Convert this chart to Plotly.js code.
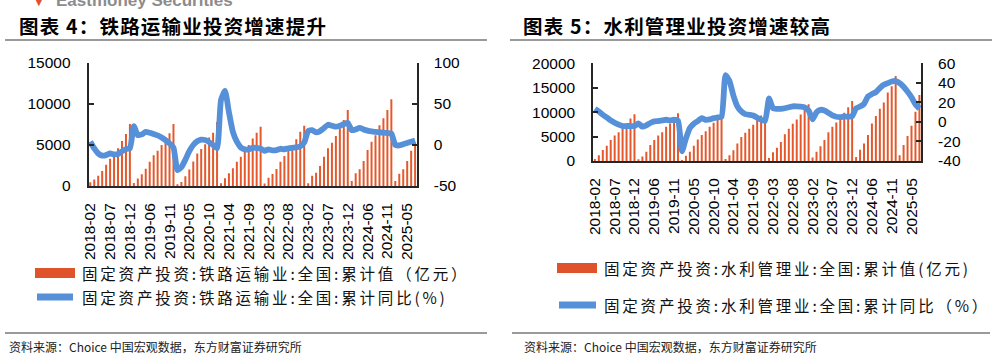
<!DOCTYPE html>
<html><head><meta charset="utf-8">
<script src="https://cdn.plot.ly/plotly-3.0.1.min.js"></script>
<style>html,body{margin:0;padding:0;background:#fff}#chart{width:997px;height:358px}</style>
</head><body><div id="chart"></div>
<script>
// ---------- data ----------
const categories = [
 '2018-02','2018-03','2018-04','2018-05','2018-06','2018-07','2018-08','2018-09','2018-10','2018-11','2018-12',
 '2019-02','2019-03','2019-04','2019-05','2019-06','2019-07','2019-08','2019-09','2019-10','2019-11','2019-12',
 '2020-02','2020-03','2020-04','2020-05','2020-06','2020-07','2020-08','2020-09','2020-10','2020-11','2020-12',
 '2021-02','2021-03','2021-04','2021-05','2021-06','2021-07','2021-08','2021-09','2021-10','2021-11','2021-12',
 '2022-02','2022-03','2022-04','2022-05','2022-06','2022-07','2022-08','2022-09','2022-10','2022-11','2022-12',
 '2023-02','2023-03','2023-04','2023-05','2023-06','2023-07','2023-08','2023-09','2023-10','2023-11','2023-12',
 '2024-02','2024-03','2024-04','2024-05','2024-06','2024-07','2024-08','2024-09','2024-10','2024-11','2024-12',
 '2025-02','2025-03','2025-04','2025-05','2025-06','2025-07'
];
// 铁路运输业 累计值 (亿元)
const railValue = [
 450, 800, 1260, 1830, 2600, 3330, 3940, 4600, 5490, 6340, 7560,
 370, 900, 1420, 2100, 2970, 3740, 4300, 5000, 5730, 6420, 7560,
 200, 500, 1200, 2000, 3000, 3950, 4500, 5100, 5900, 6500, 7800,
 350, 930, 1540, 2150, 2970, 3580, 4400, 5000, 5800, 6500, 7240,
 300, 1000, 1460, 2070, 2970, 3660, 4300, 4700, 5700, 6630, 7360,
 350, 1260, 1630, 2440, 3580, 4600, 5280, 6100, 7030, 8050, 9270,
 600, 1540, 2030, 3050, 4390, 5400, 6200, 7400, 8250, 9270, 10570,
 600, 1500, 2050, 3050, 4300, 5300
];
// 铁路运输业 累计同比 (%)
const railYoY = [
 3.9, -4.2, -10.3, -13, -12.3, -10.3, -11.5, -11, -7.8, -5, -4.2,
 23, 12, 13, 16, 15, 13.3, 11.7, 9.2, 6, 1.9, -3,
 -30.5, -27, -18, -7.5, 0, 4.5, 6.5, 6, 3.5, 0, -4,
 55, 66, 40, 16, 4, -3, -5.4, -5.4, -3.5, -3.5, -4.5,
 -7, -5.5, -6.5, -6.2, -4.6, -5.2, -4, -3.4, -3, -1.5, 3,
 17, 18, 15.4, 17, 20.7, 24.7, 23.5, 22.3, 23.5, 25.5, 27,
 18, 19, 21, 19, 17.5, 16.5, 16, 15.5, 15, 14.5, 14,
 0, -0.5, 1, 2.5, 4, 5.5
];
// 水利管理业 累计值 (亿元)
const waterValue = [
 400, 1200, 2250, 3100, 4300, 5200, 5900, 6550, 7200, 8700, 9550,
 350, 900, 1900, 3300, 4300, 5200, 5900, 7000, 7700, 8500, 9750,
 200, 1100, 1900, 3100, 4400, 5300, 6100, 7000, 7850, 8400, 9300,
 400, 1200, 2200, 3600, 4900, 5800, 6600, 7400, 8400, 9300, 9600,
 600, 1800, 2700, 3900, 5500, 6600, 7600, 8500, 9500, 10500, 11600,
 700, 1900, 3000, 4300, 5900, 7000, 7900, 8800, 9900, 11000, 12300,
 800, 2300, 3600, 5300, 7700, 9200, 10700, 12000, 14000, 15300, 17400,
 1200, 3300, 5100, 7200, 10100, 13500
];
// 水利管理业 累计同比 (%)
const waterYoY = [
 13.4, 10.7, 7.3, 4.6, 1.6, -0.8, -2.8, -4.2, -4.2, -4.2, -4.2,
 -1.5, -4.9, -3.5, -1.1, 0.5, 0.9, 1.6, 2.2, 1.6, 2.2, 1.2,
 -30, -17, -6.2, -1.8, 0.9, 3.9, 2.2, 2.6, 3.9, 4.6, 5.3,
 47.8, 42, 27, 16, 10.7, 8, 7.3, 6.6, 4.3, 2.2, 1.2,
 24, 14, 13.4, 13.4, 14, 15, 16, 16, 15.7, 15, 11.7,
 2.6, 10, 12.4, 11.7, 9.3, 6.6, 5.3, 4.9, 5.6, 5.3, 5.9,
 14, 15.7, 18.4, 26, 28.5, 30.5, 34.7, 38, 39.7, 41.4, 41.8,
 39.7, 36, 31, 25.2, 18, 13.6
];
const xTickLabels = categories.filter((c, i) => i % 5 === 0);
const railLeftTicks = [0, 5000, 10000, 15000];
const railRightTicks = [-50, 0, 50, 100];
const waterLeftTicks = [0, 5000, 10000, 15000, 20000];
const waterRightTicks = [-40, -20, 0, 20, 40, 60];

const railTitle = '图表 4：铁路运输业投资增速提升';
const waterTitle = '图表 5：水利管理业投资增速较高';
const railBarName = '固定资产投资:铁路运输业:全国:累计值（亿元）';
const railLineName = '固定资产投资:铁路运输业:全国:累计同比(%)';
const waterBarName = '固定资产投资:水利管理业:全国:累计值(亿元)';
const waterLineName = '固定资产投资:水利管理业:全国:累计同比（%）';
const sourceText = '资料来源：Choice 中国宏观数据，东方财富证券研究所';

// ---------- style ----------
const W = 997, H = 358;
const px = x => x / W, py = y => 1 - y / H;
const barColor = '#E4582B';
const lineColor = '#5590D9';
const axCol = '#262626';
const tickFont = {family: 'Liberation Sans, Arial, sans-serif', size: 15.5, color: '#000'};
const cjk = 'Noto Sans CJK SC, sans-serif';

function catAxis(domain, anchor) {
  return {domain, anchor, type: 'category', range: [-0.4, categories.length - 0.6],
    tickmode: 'array', tickvals: xTickLabels, ticktext: xTickLabels, tickangle: -90,
    ticks: '', showline: true, linecolor: axCol, linewidth: 2, tickfont: tickFont,
    ticklabelstandoff: 9, showgrid: false, zeroline: false, fixedrange: true};
}
function combAxis(over, anchor) {
  return {overlaying: over, anchor, type: 'linear', range: [-0.4, categories.length - 0.6],
    tickmode: 'linear', tick0: -0.5, dtick: 1, ticks: 'inside', ticklen: 5, tickwidth: 1.5,
    tickcolor: '#333', showticklabels: false, showline: false, showgrid: false, zeroline: false};
}
function valAxis(extra, range, ticks, side) {
  return Object.assign({range, tickmode: 'array', tickvals: ticks, ticktext: ticks.map(String),
    side, ticks: 'inside', ticklen: 5, tickwidth: 2, tickcolor: axCol, showline: true,
    linecolor: axCol, linewidth: 2, showgrid: false, zeroline: false, tickfont: tickFont,
    ticklabelstandoff: side === 'left' ? 13 : 12, fixedrange: true}, extra);
}

const traces = [
  {type: 'bar', name: railBarName, x: categories, y: railValue, xaxis: 'x', yaxis: 'y',
   marker: {color: barColor}, showlegend: false, hoverinfo: 'skip'},
  {type: 'scatter', mode: 'lines', name: railLineName, x: categories, y: railYoY, xaxis: 'x', yaxis: 'y2',
   line: {color: lineColor, width: 5.8, shape: 'spline', smoothing: 0.5}, showlegend: false, hoverinfo: 'skip'},
  {type: 'bar', name: waterBarName, x: categories, y: waterValue, xaxis: 'x2', yaxis: 'y3',
   marker: {color: barColor}, showlegend: false, hoverinfo: 'skip'},
  {type: 'scatter', mode: 'lines', name: waterLineName, x: categories, y: waterYoY, xaxis: 'x2', yaxis: 'y4',
   line: {color: lineColor, width: 5.8, shape: 'spline', smoothing: 0.5}, showlegend: false, hoverinfo: 'skip'}
];

const L1 = [px(88.7), px(416.7)], D1 = [py(186), py(63)];
const L2 = [px(593.3), px(921)], D2 = [py(161), py(63.3)];

const shapes = [];
function hline(x0, x1, y, color, width) {
  shapes.push({type: 'line', xref: 'paper', yref: 'paper', x0: px(x0), x1: px(x1), y0: py(y), y1: py(y),
    line: {color, width}});
}
hline(5, 487, 40, '#9a9a9a', 2);
hline(510, 992, 40, '#9a9a9a', 2);
hline(5, 487, 333, '#9a9a9a', 2);
hline(512, 990, 333, '#9a9a9a', 2);
function rectKey(x0, x1, yc) {
  shapes.push({type: 'rect', xref: 'paper', yref: 'paper', x0: px(x0), x1: px(x1), y0: py(yc + 5), y1: py(yc - 5),
    fillcolor: '#E0522A', line: {width: 0}});
}
rectKey(35, 75, 273);
rectKey(557, 597, 268);
hline(37, 73, 297, lineColor, 7);
hline(559, 596, 305, lineColor, 7);

const annotations = [];
function txt(text, x, y, font) {
  annotations.push({text, xref: 'paper', yref: 'paper', x: px(x), y: py(y), xanchor: 'left', align: 'left',
    yanchor: 'middle', showarrow: false, font});
}
txt('Eastmoney Securities', 54, 0, {family: 'Liberation Sans, Arial, sans-serif', size: 17, color: '#8c8c8c', weight: 700});
txt('▼', 33, 1, {family: 'DejaVu Sans, sans-serif', size: 10, color: '#e0502a'});
txt(railTitle, 17, 26, {family: cjk, size: 19.5, color: '#000', weight: 700});
txt(waterTitle, 521, 26, {family: cjk, size: 19.5, color: '#000', weight: 700});
const legFont = {family: cjk, size: 15.5, color: '#111'};
txt(railBarName, 80, 273, legFont);
txt(railLineName, 80, 297, legFont);
txt(waterBarName, 602, 268, legFont);
txt(waterLineName, 602, 305, legFont);
const srcFont = {family: cjk, size: 12, color: '#222'};
txt(sourceText, 7, 346, srcFont);
txt(sourceText, 522, 346, srcFont);

const layout = {
  width: W, height: H, margin: {l: 0, r: 0, t: 0, b: 0},
  paper_bgcolor: '#fff', plot_bgcolor: 'rgba(0,0,0,0)',
  bargap: 0.5, showlegend: false,
  xaxis: catAxis(L1, 'y'),
  xaxis3: combAxis('x', 'y'),
  yaxis: valAxis({domain: D1, anchor: 'x'}, [0, 15000], railLeftTicks, 'left'),
  yaxis2: valAxis({overlaying: 'y', anchor: 'x'}, [-50, 100], railRightTicks, 'right'),
  xaxis2: catAxis(L2, 'y3'),
  xaxis4: combAxis('x2', 'y3'),
  yaxis3: valAxis({domain: D2, anchor: 'x2'}, [0, 20000], waterLeftTicks, 'left'),
  yaxis4: valAxis({overlaying: 'y3', anchor: 'x2'}, [-40, 60], waterRightTicks, 'right'),
  shapes, annotations
};
const spacing = {};
spacing[railBarName] = '2.8px'; spacing[railLineName] = '2.8px';
spacing[waterBarName] = '2.8px'; spacing[waterLineName] = '2.8px';
spacing[railTitle] = '1.2px'; spacing[waterTitle] = '1.2px';
Plotly.newPlot('chart', traces, layout, {staticPlot: true, displayModeBar: false}).then(gd => {
  gd.querySelectorAll('.annotation-text').forEach(t => {
    const s = spacing[t.textContent];
    if (s) t.style.letterSpacing = s;
  });
});
</script></body></html>
